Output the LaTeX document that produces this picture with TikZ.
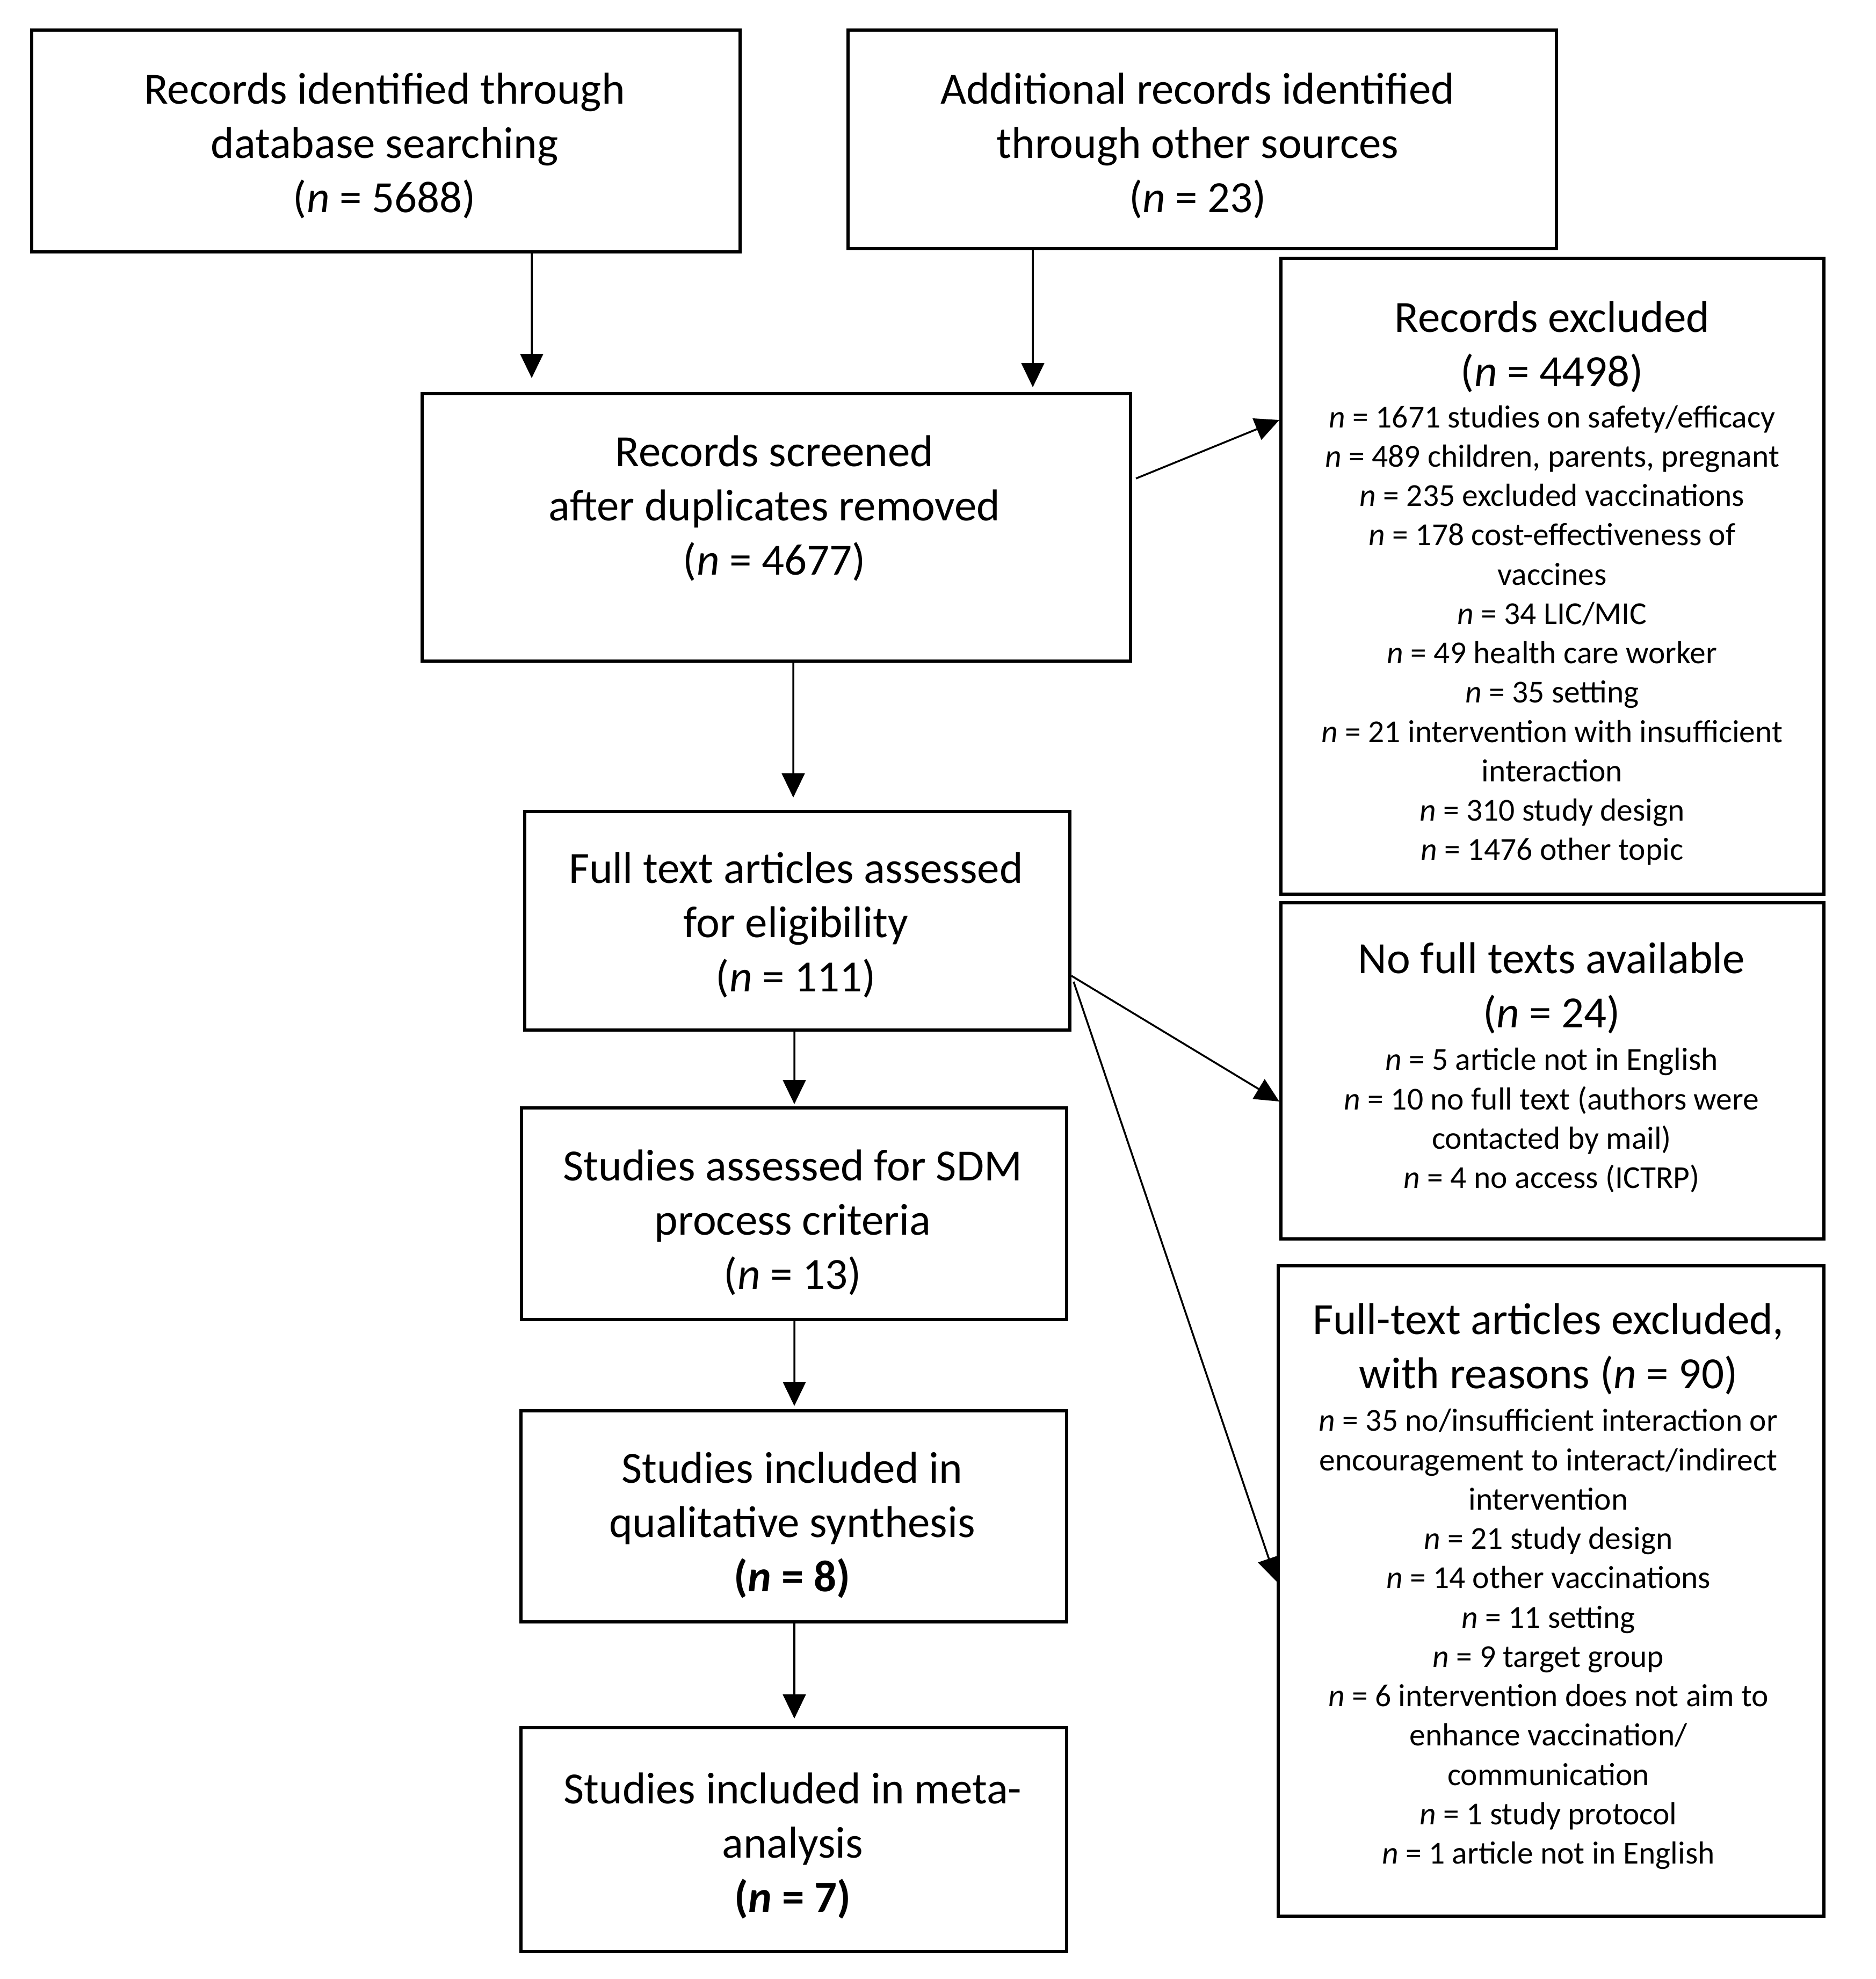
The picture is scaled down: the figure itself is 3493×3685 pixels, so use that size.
\documentclass[tikz,border=0pt]{standalone}
\usepackage{fontspec}
\setmainfont{Carlito}
\usetikzlibrary{arrows.meta,calc}
\newcommand\smallfnt{\fontsize{11.9}{14.5}\selectfont}
\begin{document}
\begin{tikzpicture}[x=0.2pt,y=-0.2pt,
  box/.style={draw,line width=1.2pt,inner sep=0pt},
  big/.style={align=center,font=\fontsize{16.6}{20.2}\selectfont,inner sep=0pt},
  arr/.style={line width=0.7pt,-{Triangle[length=9pt,width=8.5pt]}}]
\fill[white] (0,0) rectangle (3493,3685);
\useasboundingbox (0,0) rectangle (3493,3685);

% boxes
\node[box,minimum width=263.8pt,minimum height=82.6pt] (b1) at (718.5,262.5) {};
\node[box,minimum width=263.8pt,minimum height=81.4pt] (b2) at (2238.5,259.5) {};
\node[box,minimum width=263.8pt,minimum height=99.6pt] (scr) at (1445.5,982) {};
\node[box,minimum width=202.2pt,minimum height=236.8pt] (exc) at (2890.5,1073) {};
\node[box,minimum width=203pt,minimum height=81.4pt] (ft) at (1484.5,1714.5) {};
\node[box,minimum width=202.2pt,minimum height=125.2pt] (nft) at (2890.5,1994) {};
\node[box,minimum width=203pt,minimum height=78.8pt] (sdm) at (1478.5,2260) {};
\node[box,minimum width=203.2pt,minimum height=242.2pt] (fte) at (2888,2962.5) {};
\node[box,minimum width=203.2pt,minimum height=78.6pt] (qual) at (1478,2823.5) {};
\node[box,minimum width=203.2pt,minimum height=83.4pt] (meta) at (1478,3425.5) {};

% texts
\node[big] (t1) at (716,271) {Records identified through\\database searching\\(\textit{n} = 5688)};
\node[big] (t2) at (2230,271) {Additional records identified\\through other sources\\(\textit{n} = 23)};
\node[big] (tscr) at (1442,946) {Records screened\\after duplicates removed\\(\textit{n} = 4677)};
\node[big] (texc) at (2890,1086) {Records excluded\\(\textit{n} = 4498)\\[-4.8pt]
\smallfnt\textit{n} = 1671 studies on safety/efficacy\\[-5.55pt]
\smallfnt\textit{n} = 489 children, parents, pregnant\\[-5.55pt]
\smallfnt\textit{n} = 235 excluded vaccinations\\[-5.55pt]
\smallfnt\textit{n} = 178 cost-effectiveness of\\[-5.55pt]
\smallfnt vaccines\\[-5.55pt]
\smallfnt\textit{n} = 34 LIC/MIC\\[-5.55pt]
\smallfnt\textit{n} = 49 health care worker\\[-5.55pt]
\smallfnt\textit{n} = 35 setting\\[-5.55pt]
\smallfnt\textit{n} = 21 intervention with insufficient\\[-5.55pt]
\smallfnt interaction\\[-5.55pt]
\smallfnt\textit{n} = 310 study design\\[-5.55pt]
\smallfnt\textit{n} = 1476 other topic};
\node[big] (tft) at (1482,1722) {Full text articles assessed\\for eligibility\\(\textit{n} = 111)};
\node[big] (tnft) at (2889,1988) {No full texts available\\(\textit{n} = 24)\\[-4.4pt]
\smallfnt\textit{n} = 5 article not in English\\[-5.55pt]
\smallfnt\textit{n} = 10 no full text (authors were\\[-5.55pt]
\smallfnt contacted by mail)\\[-5.55pt]
\smallfnt\textit{n} = 4 no access (ICTRP)};
\node[big] (tsdm) at (1476,2276) {Studies assessed for SDM\\process criteria\\(\textit{n} = 13)};
\node[big] (tfte) at (2883,2954) {Full-text articles excluded,\\with reasons (\textit{n} = 90)\\[-4.4pt]
\smallfnt\textit{n} = 35 no/insufficient interaction or\\[-5.55pt]
\smallfnt encouragement to interact/indirect\\[-5.55pt]
\smallfnt intervention\\[-5.55pt]
\smallfnt\textit{n} = 21 study design\\[-5.55pt]
\smallfnt\textit{n} = 14 other vaccinations\\[-5.55pt]
\smallfnt\textit{n} = 11 setting\\[-5.55pt]
\smallfnt\textit{n} = 9 target group\\[-5.55pt]
\smallfnt\textit{n} = 6 intervention does not aim to\\[-5.55pt]
\smallfnt enhance vaccination/\\[-5.55pt]
\smallfnt communication\\[-5.55pt]
\smallfnt\textit{n} = 1 study protocol\\[-5.55pt]
\smallfnt\textit{n} = 1 article not in English};
\node[big] (tqual) at (1475,2840) {Studies included in\\qualitative synthesis\\\textbf{(\textit{n} = 8)}};
\node[big] (tmeta) at (1476,3437) {Studies included in meta-\\analysis\\\textbf{(\textit{n} = 7)}};

% arrows
\draw[arr] ($(b1.south)+(271.5,0)$) -- ($(scr.north)+(-455.5,-26)$);
\draw[arr] ($(b2.south)+(-315.5,0)$) -- ($(scr.north)+(477.5,-9)$);
\draw[arr] ($(scr.east)+(7,-91)$) -- ($(exc.west)+(0,-291)$);
\draw[arr] ($(scr.south)+(31.5,0)$) -- ($(ft.north)+(-7.5,-23)$);
\draw[arr] ($(ft.south)+(-5.5,0)$) -- ($(sdm.north)+(0.5,-4)$);
\draw[arr] ($(ft.east)+(0,102.5)$) -- ($(nft.west)+(0,57)$);
\draw[arr] ($(ft.east)+(4,113.5)$) -- ($(fte.west)+(0,-17.5)$);
\draw[arr] ($(sdm.south)+(0.5,0)$) -- ($(qual.north)+(1,-6)$);
\draw[arr] ($(qual.south)+(1,0)$) -- ($(meta.north)+(1,-14)$);
\end{tikzpicture}
\end{document}
